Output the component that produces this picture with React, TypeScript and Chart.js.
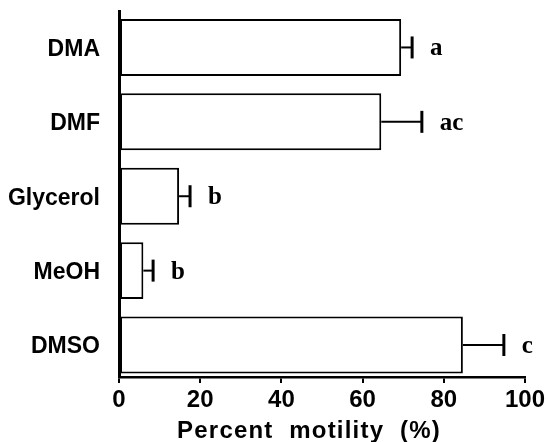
import React, { useEffect, useRef } from "react";
import { Chart, registerables } from "chart.js";

Chart.register(...registerables);

const categories = ["DMA", "DMF", "Glycerol", "MeOH", "DMSO"];
const means = [69.5, 64.6, 14.8, 6.0, 84.7];
const errors = [2.7, 10.0, 2.7, 2.4, 10.1];
const letters = ["a", "ac", "b", "b", "c"];
const xTicks = [0, 20, 40, 60, 80, 100];
const xTitle = "Percent  motility  (%)";

const errorPlugin = {
  id: "errorBarsAndLetters",
  afterDatasetsDraw(chart: any) {
    const ctx = chart.ctx;
    const xs = chart.scales.x;
    const ys = chart.scales.y;
    ctx.save();
    ctx.strokeStyle = "#000";
    ctx.fillStyle = "#000";
    for (let i = 0; i < means.length; i++) {
      const x0 = xs.getPixelForValue(means[i]);
      const x1 = xs.getPixelForValue(means[i] + errors[i]);
      const yc = ys.getPixelForValue(i);
      ctx.lineWidth = 2;
      ctx.beginPath();
      ctx.moveTo(x0, yc);
      ctx.lineTo(x1, yc);
      ctx.stroke();
      ctx.lineWidth = 3;
      ctx.beginPath();
      ctx.moveTo(x1, yc - 11);
      ctx.lineTo(x1, yc + 11);
      ctx.stroke();
      ctx.font = "bold 25px 'Liberation Serif', serif";
      ctx.textAlign = "left";
      ctx.textBaseline = "alphabetic";
      ctx.fillText(letters[i], x1 + 18, yc + 8);
    }
    // axis title
    const area = chart.chartArea;
    ctx.font = "bold 24px 'Liberation Sans', Arial, sans-serif";
    try { ctx.letterSpacing = "1.2px"; } catch (e) {}
    ctx.textAlign = "center";
    ctx.textBaseline = "middle";
    ctx.fillText(xTitle, (area.left + area.right) / 2 - 13, 431);
    ctx.restore();
  },
};

export default function App() {
  const ref = useRef<HTMLCanvasElement | null>(null);
  useEffect(() => {
    document.body.style.margin = "0";
    const canvas = ref.current;
    if (!canvas) return;
    const chart = new Chart(canvas, {
      type: "bar",
      data: {
        labels: categories,
        datasets: [
          {
            data: means.map((m, i) => ({ x: m, y: i })) as any,
            backgroundColor: "#ffffff",
            borderColor: "#000000",
            borderWidth: 2,
            borderSkipped: false,
            categoryPercentage: 0.766,
            barPercentage: 1,
          },
        ],
      },
      options: {
        indexAxis: "y",
        animation: false,
        responsive: false,
        devicePixelRatio: 1,
        layout: { padding: { top: 11, right: 23, left: 0, bottom: 0 } },
        plugins: { legend: { display: false }, tooltip: { enabled: false } },
        scales: {
          x: {
            type: "linear",
            min: 0,
            max: 100,
            afterBuildTicks: (s: any) => {
              s.ticks = xTicks.map((v) => ({ value: v }));
            },
            afterFit: (s: any) => {
              s.height = 65;
            },
            ticks: {
              color: "#000",
              font: { family: "'Liberation Sans Narrow', 'Liberation Sans', Arial, sans-serif", size: 24, weight: "bold" },
              padding: 3,
              maxRotation: 0,
            },
            grid: {
              display: true,
              drawOnChartArea: false,
              drawTicks: true,
              tickLength: 6,
              color: "#000",
              lineWidth: 2,
            },
            border: { display: true, color: "#000", width: 2.5 },
          },
          y: {
            type: "linear",
            reverse: true,
            offset: false,
            min: -0.49,
            max: 4.43,
            afterBuildTicks: (s: any) => {
              s.ticks = categories.map((_, i) => ({ value: i }));
            },
            afterFit: (s: any) => {
              s.width = 119;
              s.paddingTop = 0;
              s.paddingBottom = 0;
            },
            ticks: {
              autoSkip: false,
              color: "#000",
              font: { family: "'Liberation Sans', Arial, sans-serif", size: 23, weight: "bold" },
              padding: 19,
              labelOffset: 2,
              callback: (v: any) => categories[v as number] ?? "",
            },
            grid: { display: true, offset: false, drawOnChartArea: false, drawTicks: false },
            border: { display: true, color: "#000", width: 3 },
          },
        },
      },
      plugins: [errorPlugin],
    });
    return () => chart.destroy();
  }, []);
  return <canvas ref={ref} width={548} height={442} style={{ display: "block" }} />;
}
